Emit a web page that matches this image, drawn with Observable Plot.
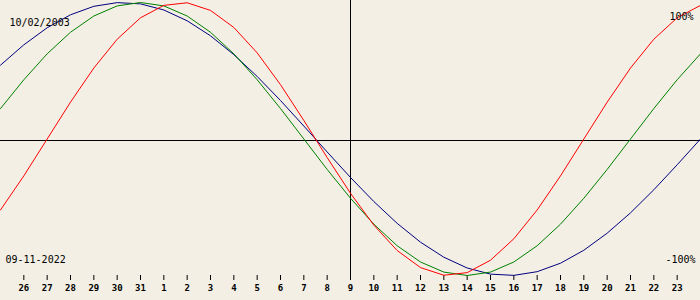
<!DOCTYPE html>
<html>
<head>
<meta charset="utf-8">
<script src="https://cdn.jsdelivr.net/npm/d3@7"></script>
<script src="https://cdn.jsdelivr.net/npm/@observablehq/plot@0.6"></script>
<style>
  html, body { margin: 0; padding: 0; background: #f3efe4; }
  svg { display: block; }
</style>
</head>
<body>
<div id="chart"></div>
<script>
// Day labels for tick positions 1..29 (Oct 26 .. Nov 23); index 0 = Oct 25, index 30 = Nov 24
const dayLabels = [26, 27, 28, 29, 30, 31, 1, 2, 3, 4, 5, 6, 7, 8, 9, 10, 11, 12, 13, 14, 15, 16, 17, 18, 19, 20, 21, 22, 23];
const selectedIndex = 15; // Nov 9

// Values (-1 .. 1), one per day from index 0 to 30
const physical = [-0.520, -0.270, 0.000, 0.270, 0.520, 0.731, 0.888, 0.979, 0.998, 0.942, 0.817, 0.631, 0.398, 0.136, -0.136, -0.398, -0.631, -0.817, -0.942, -0.998, -0.979, -0.888, -0.731, -0.520, -0.270, 0.000, 0.270, 0.520, 0.731, 0.888, 0.979];
const emotional = [0.223, 0.434, 0.624, 0.782, 0.901, 0.975, 1.000, 0.975, 0.901, 0.782, 0.624, 0.434, 0.223, 0.000, -0.223, -0.434, -0.624, -0.782, -0.901, -0.975, -1.000, -0.975, -0.901, -0.782, -0.624, -0.434, -0.223, 0.000, 0.223, 0.434, 0.624];
const intellectual = [0.541, 0.690, 0.815, 0.910, 0.972, 0.999, 0.990, 0.945, 0.866, 0.756, 0.618, 0.458, 0.282, 0.095, -0.095, -0.282, -0.458, -0.618, -0.756, -0.866, -0.945, -0.990, -0.999, -0.972, -0.910, -0.815, -0.690, -0.541, -0.372, -0.189, 0.000];

const birthLabel = ["10/02/2003"];
const dateLabel = ["09-11-2022"];
const topLabel = ["100%"];
const bottomLabel = ["-100%"];

const seriesDefs = [
  {name: "intellectual", values: intellectual, color: "#000080"},
  {name: "emotional", values: emotional, color: "#008000"},
  {name: "physical", values: physical, color: "#ff0000"}
];

const font = "'DejaVu Sans Mono', 'Liberation Mono', monospace";

const marks = [
  Plot.ruleY([0], {stroke: "#000", strokeWidth: 1, dy: 1.5}),
  Plot.ruleX([selectedIndex], {stroke: "#000", strokeWidth: 1, insetTop: -2, insetBottom: -5}),
  Plot.axisX({
    ticks: d3.range(1, dayLabels.length + 1),
    tickFormat: i => dayLabels[i - 1],
    tickSize: 5,
    tickPadding: 4,
    fontSize: 9,
    fontWeight: "bold",
    fontFamily: font,
    stroke: "#000",
    fill: "#000",
    label: null
  })
];

for (const s of seriesDefs) {
  marks.push(Plot.line(s.values.map((v, i) => ({i, v})), {
    x: "i", y: "v", stroke: s.color, strokeWidth: 1, curve: "linear",
    style: "shape-rendering: crispEdges"
  }));
}

marks.push(
  Plot.text(birthLabel, {text: d => d, frameAnchor: "top-left", textAnchor: "start", dx: 9, dy: 16.5, fontSize: 10, fontFamily: font, fill: "#000"}),
  Plot.text(dateLabel, {text: d => d, frameAnchor: "bottom-left", textAnchor: "start", dx: 5, dy: -12.2, fontSize: 10, fontFamily: font, fill: "#000"}),
  Plot.text(topLabel, {text: d => d, frameAnchor: "top-right", textAnchor: "end", dx: -7, dy: 10.8, fontSize: 10, fontFamily: font, fill: "#000"}),
  Plot.text(bottomLabel, {text: d => d, frameAnchor: "bottom-right", textAnchor: "end", dx: -5, dy: -12.2, fontSize: 10, fontFamily: font, fill: "#000"})
);

const chart = Plot.plot({
  width: 700,
  height: 300,
  marginTop: 2,
  marginBottom: 25,
  marginLeft: 0,
  marginRight: 0,
  style: {background: "#f3efe4", fontFamily: font, overflow: "visible"},
  x: {domain: [0, 30], axis: null},
  y: {domain: [-1, 1], axis: null},
  marks
});
document.getElementById("chart").appendChild(chart);
</script>
</body>
</html>
